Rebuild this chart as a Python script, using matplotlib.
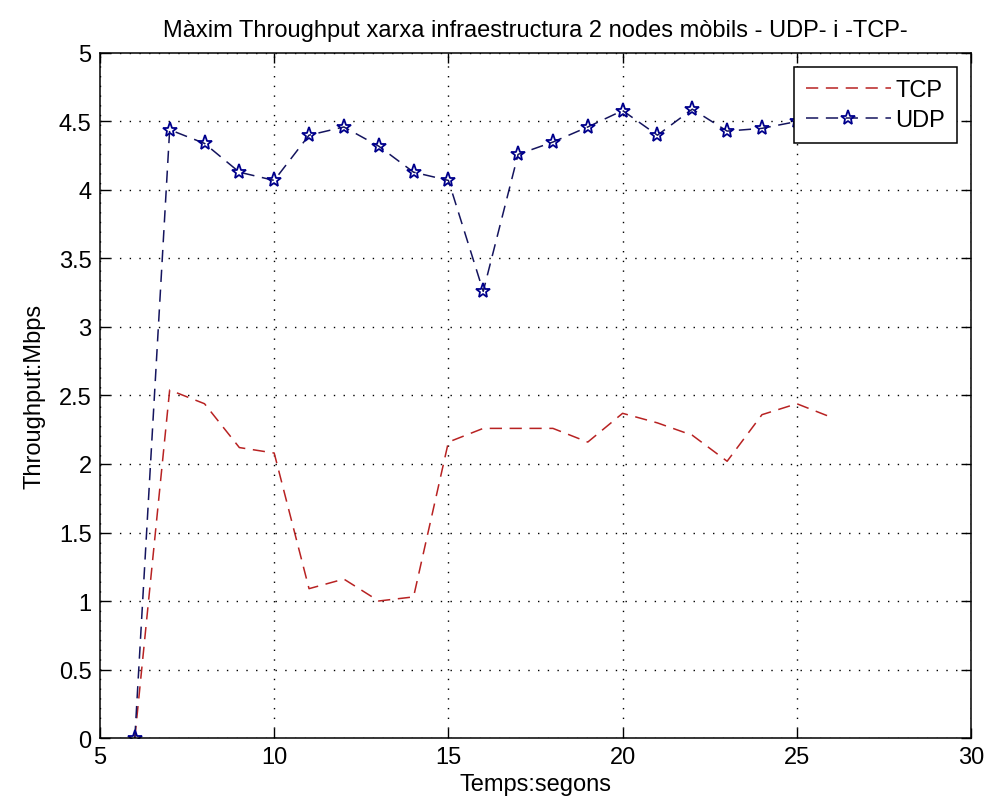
import matplotlib
matplotlib.use("Agg")
import matplotlib.pyplot as plt

plt.rcParams['font.family'] = ['Liberation Sans', 'DejaVu Sans']

temps = [6, 7, 8, 9, 10, 11, 12, 13, 14, 15, 16, 17, 18, 19, 20, 21, 22, 23, 24, 25, 26]
tcp = [0, 2.54, 2.44, 2.12, 2.08, 1.09, 1.16, 1.00, 1.03, 2.16, 2.26, 2.26, 2.26,
       2.16, 2.37, 2.30, 2.21, 2.02, 2.36, 2.44, 2.34]
udp = [0, 4.44, 4.34, 4.13, 4.07, 4.40, 4.46, 4.32, 4.13, 4.07, 3.26, 4.26, 4.35,
       4.46, 4.58, 4.40, 4.59, 4.43, 4.45, 4.50, 4.48]

xticks = [5, 10, 15, 20, 25, 30]
yticks = [0, 0.5, 1, 1.5, 2, 2.5, 3, 3.5, 4, 4.5, 5]
ylabels = ['0', '0.5', '1', '1.5', '2', '2.5', '3', '3.5', '4', '4.5', '5']

fig = plt.figure(figsize=(9.86, 8.12), dpi=100)
ax = fig.add_axes([0.1014, 0.0899, 0.8834, 0.8436])

ax.plot(temps, tcp, '--', color='#b82222', linewidth=1.1, dashes=(8, 5), label='TCP')
ax.plot(temps, udp, '--', color='#14145e', linewidth=1.1, dashes=(8, 5),
        marker='*', markersize=11, markerfacecolor='none',
        markeredgecolor='#00008c', markeredgewidth=1.3, label='UDP')

ax.set_xlim(5, 30)
ax.set_ylim(0, 5)
ax.set_xticks(xticks)
ax.set_yticks(yticks)
ax.set_yticklabels(ylabels)
ax.tick_params(direction='in', top=True, right=True, length=7, width=1.0,
               labelsize=17, pad=6)
ax.grid(True, linestyle=(0, (1, 6)), color='black', linewidth=1.0)

for s in ax.spines.values():
    s.set_linewidth(1.1)

ax.set_title('Màxim Throughput xarxa infraestructura 2 nodes mòbils - UDP- i -TCP-',
             fontsize=17, pad=12)
ax.set_xlabel('Temps:segons', fontsize=17, labelpad=3)
ax.set_ylabel('Throughput:Mbps', fontsize=17, labelpad=10)

leg = ax.legend(loc='upper right', fontsize=17, fancybox=False, framealpha=1,
                edgecolor='black', handlelength=3.6, handletextpad=0.2,
                borderpad=0.5, labelspacing=0.35, borderaxespad=0.6)
leg.get_frame().set_linewidth(1.1)

fig.savefig('out.png', dpi=100, facecolor='white')
